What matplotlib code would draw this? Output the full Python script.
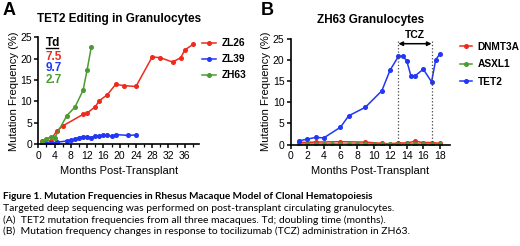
import matplotlib.pyplot as plt
from matplotlib.ticker import MultipleLocator

plt.rcParams['font.family'] = ['Liberation Sans', 'DejaVu Sans']

RED = "#ee2b1b"
BLUE = "#2236f5"
GREEN = "#4b9b30"

# Panel A: TET2 mutation frequency (%) per macaque
zl26_months = [1, 3, 4.5, 6, 11, 12, 14, 15, 17, 19, 21, 24, 28, 30, 33, 35, 36, 38]
zl26_freq = [0.8, 0.9, 3.1, 4.3, 7.0, 7.3, 8.8, 10.2, 11.6, 14.0, 13.7, 13.5, 20.4, 20.2, 19.2, 20.2, 22.0, 23.3]
zl39_months = [1, 2, 3, 4.5, 7, 8, 9, 10, 11, 12, 13, 14, 15, 16, 17, 18, 19, 22, 24]
zl39_freq = [0.2, 0.3, 0.4, 0.5, 0.8, 1.0, 1.2, 1.6, 1.8, 1.8, 1.6, 2.0, 2.0, 2.2, 2.1, 1.9, 2.3, 2.1, 2.2]
zh63_months = [1, 2, 3, 4, 7, 9, 11, 12, 13]
zh63_freq = [0.6, 1.3, 1.7, 1.5, 6.7, 8.7, 12.6, 17.4, 22.6]
td_labels = ["7.5", "9.7", "2.7"]

# Panel B: ZH63 granulocytes by gene
b_months = [1, 3, 6, 9, 11, 12, 13, 14, 15, 16, 17, 18]
dnmt3a = [0.5, 0.6, 0.7, 0.6, 0.3, 0.2, 0.4, 0.4, 0.8, 0.5, 0.5, 0.3]
asxl1_months = list(range(1, 19))
asxl1 = [0.1] * 18
tet2_months = [1, 2, 3, 4, 6, 7, 9, 11, 12, 13, 13.5, 14, 14.5, 15, 16, 17, 17.5, 18]
tet2 = [0.9, 1.3, 1.7, 1.6, 4.1, 6.8, 8.8, 12.7, 17.6, 20.8, 20.9, 19.8, 16.3, 16.2, 17.8, 14.8, 20.0, 21.4]
tcz_start, tcz_end = 13, 17

caption_title = "Figure 1. Mutation Frequencies in Rhesus Macaque Model of Clonal Hematopoiesis"
caption = [
    "Targeted deep sequencing was performed on post-transplant circulating granulocytes.",
    "(A)  TET2 mutation frequencies from all three macaques. Td; doubling time (months).",
    "(B)  Mutation frequency changes in response to tocilizumab (TCZ) administration in ZH63.",
]

fig = plt.figure(figsize=(5.2, 2.46), dpi=100)
axA = fig.add_axes([0.0737, 0.413, 0.309, 0.436])
axB = fig.add_axes([0.559, 0.412, 0.306, 0.431])

line_kw = dict(marker="o", markersize=2.6, linewidth=1.1)
axA.plot(zl26_months, zl26_freq, color=RED, label="ZL26", **line_kw)
axA.plot(zl39_months, zl39_freq, color=BLUE, label="ZL39", **line_kw)
axA.plot(zh63_months, zh63_freq, color=GREEN, label="ZH63", **line_kw)
axA.set_xlim(0, 39.5)
axA.xaxis.set_major_locator(MultipleLocator(4))
axA.xaxis.set_minor_locator(MultipleLocator(2))

axB.plot(b_months, dnmt3a, color=RED, label="DNMT3A", **line_kw)
axB.plot(asxl1_months, asxl1, color=GREEN, label="ASXL1", **line_kw)
axB.plot(tet2_months, tet2, color=BLUE, label="TET2", **line_kw)
axB.set_xlim(0, 19.2)
axB.xaxis.set_major_locator(MultipleLocator(2))
for x in (tcz_start, tcz_end):
    axB.axvline(x, ymin=0, ymax=1, color="#444", linestyle=":", linewidth=0.9)
axB.annotate("", xy=(tcz_end, 23.8), xytext=(tcz_start, 23.8),
             arrowprops=dict(arrowstyle="<|-|>", color="black", lw=1.1,
                             mutation_scale=6, shrinkA=0, shrinkB=0))
axB.text((tcz_start + tcz_end) / 2, 24.7, "TCZ", ha="center", va="bottom",
         fontsize=7.5, fontweight="bold")

legend_opts = {
    axA: dict(bbox_to_anchor=(1.019, 0.99), labelspacing=0.6, handlelength=1.4),
    axB: dict(bbox_to_anchor=(1.065, 0.97), labelspacing=0.75, handlelength=1.2),
}
for ax, title in ((axA, "TET2 Editing in Granulocytes"), (axB, "ZH63 Granulocytes")):
    ax.set_ylim(0, 25)
    ax.yaxis.set_major_locator(MultipleLocator(5))
    ax.spines[["top", "right"]].set_visible(False)
    ax.spines[["left", "bottom"]].set_linewidth(1.2)
    ax.tick_params(labelsize=7.5, length=3, width=1.1, pad=1.5)
    ax.tick_params(which="minor", length=2, width=0.9)
    ax.set_ylabel("Mutation Frequency (%)", fontsize=8, labelpad=1)
    ax.set_xlabel("Months Post-Transplant", fontsize=8, labelpad=4)
    ax.set_title(title, fontsize=8.5, fontweight="bold", pad=11)
    ax.legend(loc="upper left", frameon=False, handletextpad=0.5,
              borderpad=0, borderaxespad=0,
              prop=dict(weight="bold", size=7.3), **legend_opts[ax])

# doubling-time annotations
axA.text(0.045, 1.0, "Td", transform=axA.transAxes, fontsize=8.5, fontweight="bold",
         va="top")
axA.plot([0.045, 0.12], [0.9, 0.9], transform=axA.transAxes, color="black", lw=1.0)
for i, (lab, c) in enumerate(zip(td_labels, (RED, BLUE, GREEN))):
    axA.text(0.045, 0.875 - i * 0.11, lab, transform=axA.transAxes, fontsize=8.5,
             fontweight="bold", color=c, va="top")

fig.text(0.004, 0.99, "A", fontsize=13, fontweight="bold", va="top")
fig.text(0.502, 0.99, "B", fontsize=13, fontweight="bold", va="top")

fig.text(0.006, 0.203, caption_title, fontsize=7.2, fontweight="bold", va="center",
         family=["Lato", "DejaVu Sans"])
for i, line in enumerate(caption):
    fig.text(0.006, 0.152 - i * 0.0455, line, fontsize=7.5, va="center",
             family=["Lato", "DejaVu Sans"])

fig.savefig("out.png", dpi=100)
